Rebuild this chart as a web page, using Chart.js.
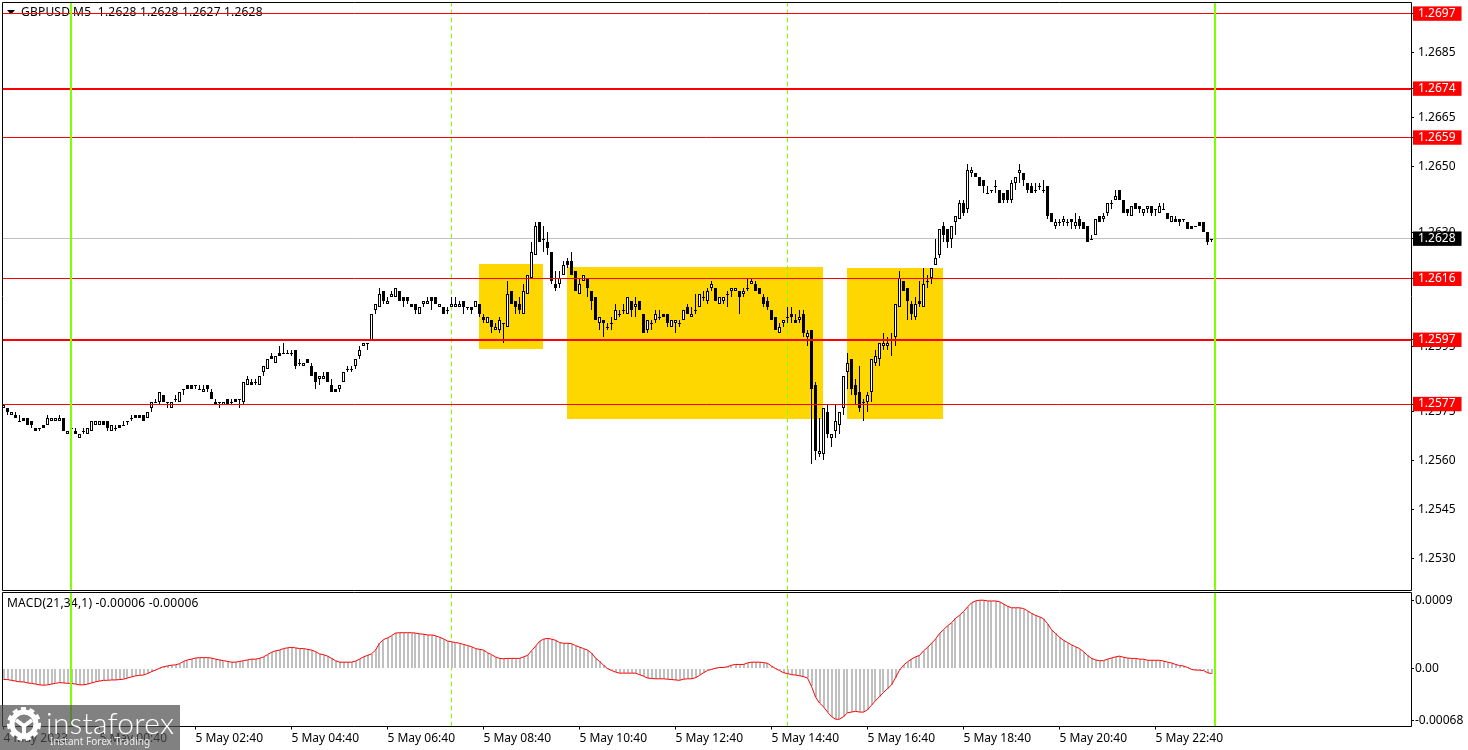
<!DOCTYPE html>
<html>
<head>
<meta charset="utf-8">
<title>GBPUSD M5</title>
<script src="https://cdn.jsdelivr.net/npm/chart.js@4"></script>
<style>
  body { margin: 0; background: #fff; overflow: hidden; }
  canvas { position: absolute; left: 0; }
  #priceChart { top: 0; }
  #macdChart { top: 592px; }
  #logo { position: absolute; left: 0; top: 705px; width: 180px; height: 45px; background: rgba(77, 77, 77, 0.71); color: #fff; overflow: hidden; }
  #logo svg { position: absolute; left: 6px; top: 2px; }
  #logo .name { position: absolute; left: 46px; top: -1px; font: 300 30px Lato, sans-serif; letter-spacing: 0.2px; }
  #logo .sub { position: absolute; left: 50px; top: 29px; font: 10px "Noto Sans", sans-serif; color: rgba(255, 255, 255, 0.85); }
</style>
</head>
<body>
<canvas id="priceChart" width="1468" height="592"></canvas>
<canvas id="macdChart" width="1468" height="158"></canvas>
<div id="logo">
  <svg width="38" height="34" viewBox="0 0 38 34">
    <circle cx="18" cy="17" r="12" fill="none" stroke="#fff" stroke-width="5"/>
    <circle cx="18" cy="17" r="15" fill="none" stroke="#fff" stroke-width="4" stroke-dasharray="5 3.4"/>
    <path d="M10 13 L18 19 L26 13 M18 19 V32" fill="none" stroke="#fff" stroke-width="4"/>
  </svg>
  <span class="name">instaforex</span>
  <span class="sub">Instant Forex Trading</span>
</div>
<script>
// candles, in pips above basePrice (5 minute bars, left to right)
var basePrice = 1.25;
var opens = [76,76,74,74,72,73,73,72,70,70, 71,71,72,72,72,73,68,70,69,67, 69,68,69,71,71,72,72,69,70,71,
  71,72,73,74,74,74,73,76,78,78, 80,78,76,79,78,82,83,83,83,82, 81,83,81,78,78,77,79,78,79,79,
  78,83,84,84,83,87,88,92,90,93, 93,93,93,94,90,89,91,89,87,85, 85,87,83,82,82,84,88,88,89,92,
  95,96,97,106,107,112,108,110,110,112, 110,110,108,108,105,108,108,110,110,107, 107,106,107,107,107,109,107,107,107,108,
  104,102,103,100,100,102,101,112,109,108, 105,111,116,123,133,128,127,124,114,114, 117,121,121,118,111,115,116,112,110,102,
  103,101,102,103,105,106,105,109,107,109, 105,100,102,103,104,105,105,101,102,102, 103,107,104,106,107,110,109,113,113,108,
  109,111,112,112,112,111,113,114,114,113, 110,109,106,104,99,102,104,105,103,103, 105,98,100,83,62,62,75,67,69,71,
  76,87,91,83,81,78,78,81,90,91, 95,95,97,98,107,115,113,108,104,109, 107,115,116,120,123,132,131,128,133,134,
  139,137,148,148,147,146,142,143,144,143, 142,143,140,145,148,148,145,144,143,144, 143,144,136,132,133,133,133,134,132,134,
  133,132,128,129,135,134,136,139,140,143, 140,137,135,139,138,136,137,138,137,136, 137,136,133,134,134,134,133,132,132,133,
  133,130,128];
var highs = [77,76,75,75,74,73,73,72,70,70, 71,74,73,73,74,73,69,70,70,68, 70,70,72,72,72,72,72,71,71,71,
  72,72,74,74,74,74,75,78,79,81, 80,78,78,80,81,82,83,83,83,83, 83,83,82,79,78,78,79,79,79,79,
  84,86,85,85,86,89,91,93,92,95, 96,94,94,94,91,90,91,90,87,86, 87,87,85,82,83,87,89,89,91,95,
  96,96,105,108,113,112,110,112,113,112, 110,110,108,108,107,109,110,110,110,108, 107,107,110,110,109,109,107,107,109,108,
  105,104,103,102,104,102,115,112,109,110, 114,117,127,133,133,132,130,124,118,118, 121,122,124,118,116,117,116,112,110,104,
  103,102,104,108,106,108,110,109,110,109, 105,103,103,106,106,105,105,103,103,103, 106,108,107,111,111,112,113,115,113,110,
  110,112,113,113,112,113,116,116,115,113, 111,110,106,104,102,103,107,107,105,106, 106,100,100,84,73,76,77,68,77,75,
  86,93,91,85,89,79,81,91,94,96, 99,98,99,108,118,115,113,109,110,115, 119,117,119,128,131,133,131,132,135,140,
  140,151,150,148,147,146,144,143,146,143, 142,143,146,147,151,148,145,145,145,145, 146,144,136,134,134,135,134,134,136,135,
  133,132,129,134,135,136,139,140,143,143, 140,137,138,139,138,137,138,138,137,139, 139,136,135,135,134,134,133,132,132,133,
  133,130,128];
var lows = [76,74,74,73,72,72,71,70,69,69, 70,71,72,72,72,69,68,69,68,67, 68,68,69,71,71,71,69,69,69,70,
  71,71,72,73,73,72,73,75,78,77, 78,76,76,78,78,80,82,82,82,82, 81,81,79,77,76,77,77,77,78,76,
  77,83,83,83,83,86,88,91,90,92, 93,93,92,88,89,89,90,86,82,83, 85,84,81,81,81,84,87,87,88,91,
  95,94,97,105,107,108,108,110,110,109, 107,108,107,105,105,107,108,106,108,107, 105,105,107,107,107,105,106,105,107,104,
  102,102,99,100,99,96,101,108,105,105, 105,111,116,123,127,124,123,114,112,113, 117,119,117,112,111,115,110,106,103,100,
  98,100,100,103,104,105,105,104,104,106, 99,99,100,102,103,104,101,101,99,101, 103,105,104,105,107,109,108,112,109,108,
  108,107,110,112,105,110,112,114,112,111, 107,106,103,100,99,101,102,102,102,102, 98,95,59,60,61,60,67,64,67,68,
  74,82,80,77,75,72,75,78,89,89, 94,94,92,95,107,112,103,103,103,107, 107,113,114,120,122,127,125,125,129,134,
  135,136,147,147,144,142,142,142,142,139, 139,139,139,143,145,144,142,142,142,143, 142,134,133,131,132,132,132,131,131,131,
  131,127,128,129,133,133,135,137,140,140, 136,135,135,137,136,135,136,135,135,136, 137,134,133,133,132,133,131,131,132,132,
  130,126,127];
var closes = [77,75,75,73,72,72,71,71,69,70, 70,73,73,73,73,69,69,70,68,68, 69,70,72,72,72,71,70,71,70,70,
  71,72,73,73,73,72,75,78,78,81, 78,78,78,79,81,82,82,82,83,82, 82,82,79,77,78,78,77,78,78,79,
  84,85,83,84,86,89,91,91,92,92, 93,93,93,89,90,90,90,86,84,86, 86,84,81,81,83,87,88,88,91,94,
  96,96,105,108,111,109,109,111,113,109, 109,109,107,106,107,109,109,109,108,108, 105,106,108,108,108,107,107,106,109,105,
  103,104,101,101,103,102,111,108,107,106, 112,117,124,132,127,128,125,115,113,116, 120,120,117,112,114,117,113,109,103,104,
  102,101,102,106,105,106,110,106,108,106, 99,103,102,105,104,104,102,103,103,102, 106,105,105,106,111,110,112,114,109,110,
  110,111,113,113,110,112,113,115,112,111, 108,107,103,100,101,103,104,104,102,104, 99,99,82,63,63,76,68,68,72,75,
  86,90,82,80,76,78,80,91,92,96, 96,96,97,108,116,112,109,105,108,108, 114,115,119,122,131,129,127,132,135,139,
  136,149,149,147,144,144,142,143,144,139, 140,140,145,147,149,146,143,142,143,144, 143,135,133,133,133,134,133,133,133,132,
  131,127,128,134,133,135,139,139,141,140, 136,136,138,137,137,137,138,136,137,138, 137,134,135,133,133,134,131,131,132,132,
  130,127,128];

// MACD(21,34,1), in units of 0.00001. signal period is 1, so signal = macd
var macdValues = [-14,-14,-15,-16,-17,-17,-18.5,-19,-20,-21, -21.5,-21,-20,-19,-18,-18.5,-19,-19,-20,-21, -21,-20,-18.5,-17,-16,-15,-15,-14.5,-14.5,-14,
  -13.5,-12,-10.5,-9,-8.5,-8,-6,-3.5,-1.5,1, 3,4,5,5.5,7,10,12,13,14.5,15, 15,15,14.5,13,12,11,10,9,9,10,
  11,12,13,13,14,16,19,22,24,25, 27,28,28.5,28,27,27,26,25,23,20, 19,17,14,11,9,9,9,9,10.5,13,
  16,18,20,25,34,39,41,44,47.5,48, 48,48,48,47.5,46.5,46,45,45,44,42, 40,37,36,35,34,32.5,31,29.5,27,26,
  25,21.5,19,16,14,13.5,14,14,14,14, 16,18,24,30,36.5,39.5,40.5,39.5,38,35, 34,34,33.5,31,29,27,25,21,14.5,10,
  5,0.5,-2,-4,-5.5,-5.5,-5.5,-5.5,-5.5,-7.5, -9.5,-12,-12.5,-13,-13,-13,-13.5,-14,-14.5,-15, -13.5,-13,-13,-11.5,-8.5,-5,-2,-0.5,1,2,
  2,3,5,6,6,6,8,9,9,9, 8.5,7.5,4,0.5,-2,-5,-6,-7.5,-8,-9, -10,-12,-23,-37,-45,-50,-57,-63,-66.5,-66.5,
  -63,-58,-57,-56,-57,-57,-54,-48,-42,-36.5, -31,-26,-21,-11.5,-1.5,5,9.5,13,16,18, 24,28.5,34,39.5,47,52,57,61,67,71,
  76,82,87.5,90,91,91,90,90,90,89, 86,83,81,81,81,80,77,73.5,71,69, 66.5,60,52,47,42,38,35,32,29.5,27,
  23,18,14,12,11,11,13,14.5,16,17, 15.5,14.5,14,14,13,13,11.5,11.5,11.5,11.5, 10.5,9,8,6,4.5,4,2,-0.5,-1.5,-1.5,
  -2,-5,-6];
var signalValues = macdValues;

// axis labels
var timeLabels = ['4 May 2023', '5 May 00:40', '5 May 02:40', '5 May 04:40', '5 May 06:40', '5 May 08:40', '5 May 10:40',
  '5 May 12:40', '5 May 14:40', '5 May 16:40', '5 May 18:40', '5 May 20:40', '5 May 22:40'];
var barsPerLabel = 24;
var priceTicks = [1.2685, 1.2665, 1.2650, 1.2630, 1.2595, 1.2575, 1.2560, 1.2545, 1.2530];
var macdTicks = [0.0009, 0, -0.00068];
var macdTickLabels = ['0.0009', '0.00', '-0.00068'];

// levels and session marks
var levels = [1.2697, 1.2674, 1.2659, 1.26157, 1.2597, 1.25773];
var levelWidths = [1, 2, 1, 1, 2, 1];
var lastPrice = 1.2628;
var sessionBars = [16.875, 302.875];
var dayBars = [112, 196];
var boxStarts = [118.875, 140.875, 210.875];
var boxEnds = [134.875, 204.875, 234.875];
var boxTops = [1.26202, 1.26193, 1.2619];
var boxBottoms = [1.25942, 1.25727, 1.25727];

var xMin = -0.25, xMax = 351.875;
var priceMin = 1.252014, priceMax = 1.27004;
var macdMin = -0.000761, macdMax = 0.001012;

var fontFamily = '"Noto Sans", sans-serif';
var fontSize = 12;
Chart.defaults.font.family = fontFamily;
Chart.defaults.font.size = fontSize;
Chart.defaults.color = '#000';

function toPrice(p) { return basePrice + p / 10000; }

function lineSet(points, color, width, order, extra) {
  return Object.assign({
    type: 'line', data: points, borderColor: color, borderWidth: width,
    pointRadius: 0, fill: false, order: order
  }, extra || {});
}

// canvas blurs bars on fractional pixels, so snap them after the scales placed them
var snapPlugin = {
  id: 'snap',
  afterDatasetsUpdate: function (chart) {
    chart.data.datasets.forEach(function (ds, i) {
      var meta = chart.getDatasetMeta(i);
      meta.data.forEach(function (el) {
        if (meta.type === 'bar') {
          var top = Math.round(Math.min(el.y, el.base));
          var bottom = Math.round(Math.max(el.y, el.base));
          el.y = top;
          el.base = Math.max(bottom, top + 1);
          if (el.width % 2 === 0) el.x = Math.round(el.x);
        } else if (ds.snapY) {
          el.y = ds.borderWidth % 2 ? Math.floor(el.y) + 0.5 : Math.round(el.y);
        }
      });
    });
  }
};

// frame round the plot plus the text line at its top left
function framePlugin(drawText) {
  return {
    id: 'frame',
    beforeDatasetsDraw: function (chart) { drawText(chart.ctx); },
    afterDatasetsDraw: function (chart) {
      var a = chart.chartArea, ctx = chart.ctx;
      ctx.save();
      ctx.strokeStyle = '#000';
      ctx.lineWidth = 1;
      ctx.beginPath();
      ctx.moveTo(a.left, a.top);
      ctx.lineTo(Math.floor(a.right) + 0.5, a.top);
      ctx.lineTo(Math.floor(a.right) + 0.5, a.bottom);
      ctx.lineTo(a.left, a.bottom);
      ctx.closePath();
      ctx.stroke();
      ctx.restore();
    }
  };
}

function caption(ctx, text, x, y) {
  ctx.save();
  ctx.fillStyle = '#000';
  ctx.font = fontSize + 'px ' + fontFamily;
  ctx.letterSpacing = '0.2px';
  ctx.textBaseline = 'middle';
  ctx.fillText(text, x, y);
  ctx.restore();
}

function markerSets(yMin, yMax) {
  var sets = [];
  sessionBars.forEach(function (x) {
    sets.push(lineSet([{ x: x, y: yMin }, { x: x, y: yMax }], '#7fff00', 2, 0));
  });
  dayBars.forEach(function (x) {
    sets.push(lineSet([{ x: x, y: yMin }, { x: x, y: yMax }], '#7fff00', 1, 5, { borderDash: [5, 3] }));
  });
  return sets;
}

// tick labels must not push the plot edges in
function fitY(scale) { scale.width = 57; scale.paddingTop = 0; scale.paddingBottom = 0; }

var wickData = [], bodyData = [], macdBarData = [], signalData = [];
for (var i = 0; i < opens.length; i++) {
  wickData.push({ x: i, y: [toPrice(lows[i]), toPrice(highs[i])] });
  bodyData.push({ x: i, y: [toPrice(Math.min(opens[i], closes[i])), toPrice(Math.max(opens[i], closes[i]))] });
}
for (var j = 0; j < macdValues.length; j++) {
  macdBarData.push({ x: j, y: macdValues[j] / 100000 });
  signalData.push({ x: j, y: signalValues[j] / 100000 });
}

var priceSets = [
  { type: 'bar', data: wickData, barThickness: 1, grouped: false, backgroundColor: '#000', borderWidth: 0, inflateAmount: 0, order: 3 },
  {
    type: 'bar', data: bodyData, barThickness: 3, grouped: false, borderColor: '#000', borderWidth: 1,
    borderSkipped: false, inflateAmount: 0, order: 2,
    backgroundColor: function (ctx) { return closes[ctx.dataIndex] >= opens[ctx.dataIndex] ? '#fff' : '#000'; }
  },
  lineSet([{ x: xMin, y: lastPrice }, { x: xMax, y: lastPrice }], '#c0c0c0', 1, 4, { snapY: true })
].concat(markerSets(priceMin, priceMax));
levels.forEach(function (level, k) {
  priceSets.push(lineSet([{ x: xMin, y: level }, { x: xMax, y: level }], '#ff0000', levelWidths[k], 1, { snapY: true }));
});
boxStarts.forEach(function (start, k) {
  priceSets.push(lineSet([{ x: start, y: boxTops[k] }, { x: boxEnds[k], y: boxTops[k] }], '#ffd700', 0, 6,
    { fill: { value: boxBottoms[k] }, backgroundColor: '#ffd700' }));
});

function tagColor(value) {
  if (value === lastPrice) return '#000';
  return levels.indexOf(value) >= 0 ? '#ff0000' : 'rgba(0,0,0,0)';
}

new Chart(document.getElementById('priceChart'), {
  type: 'bar',
  data: { datasets: priceSets },
  plugins: [snapPlugin, framePlugin(function (ctx) {
    ctx.save();
    ctx.fillStyle = '#000';
    ctx.beginPath();
    ctx.moveTo(7, 10); ctx.lineTo(15, 10); ctx.lineTo(11, 14.5);
    ctx.fill();
    ctx.restore();
    caption(ctx, 'GBPUSD,M5  1.2628 1.2628 1.2627 1.2628', 21, 13);
  })],
  options: {
    responsive: false, animation: false, devicePixelRatio: 1,
    layout: { padding: { left: 2.5, top: 2.5, bottom: 1.5, right: 0 } },
    plugins: { legend: { display: false }, tooltip: { enabled: false } },
    scales: {
      x: { type: 'linear', display: false, offset: false, min: xMin, max: xMax },
      y: {
        position: 'right', min: priceMin, max: priceMax,
        afterFit: fitY,
        afterBuildTicks: function (scale) {
          scale.ticks = priceTicks.concat([lastPrice], levels).map(function (v) { return { value: v }; });
        },
        grid: { drawOnChartArea: false, tickLength: 3, tickColor: '#000' },
        border: { display: false },
        ticks: {
          autoSkip: false, padding: 4, showLabelBackdrop: true,
          backdropPadding: { left: 5, right: 6, top: 0, bottom: 0 },
          backdropColor: function (ctx) { return tagColor(ctx.tick.value); },
          color: function (ctx) { return tagColor(ctx.tick.value) === 'rgba(0,0,0,0)' ? '#000' : '#fff'; },
          callback: function (v) { return v.toFixed(4); }
        }
      }
    }
  }
});

new Chart(document.getElementById('macdChart'), {
  type: 'bar',
  data: {
    datasets: [
      { type: 'bar', data: macdBarData, barThickness: 2, grouped: false, backgroundColor: '#c0c0c0', borderWidth: 0, inflateAmount: 0, order: 3 },
      lineSet(signalData, '#ff0000', 1, 2)
    ].concat(markerSets(macdMin, macdMax))
  },
  plugins: [snapPlugin, framePlugin(function (ctx) {
    caption(ctx, 'MACD(21,34,1) -0.00006 -0.00006', 7, 12);
  })],
  options: {
    responsive: false, animation: false, devicePixelRatio: 1,
    layout: { padding: { left: 2.5, top: 0.5, bottom: 0, right: 0 } },
    plugins: { legend: { display: false }, tooltip: { enabled: false } },
    scales: {
      x: {
        type: 'linear', offset: false, min: xMin, max: xMax,
        afterFit: function (scale) { scale.height = 23.5; scale.paddingLeft = 0; scale.paddingRight = 0; },
        afterBuildTicks: function (scale) {
          scale.ticks = timeLabels.map(function (t, k) { return { value: k * barsPerLabel }; });
        },
        grid: { drawOnChartArea: false, tickLength: 3, tickColor: '#000', offset: false },
        border: { display: false },
        ticks: {
          autoSkip: false, maxRotation: 0, align: 'start', padding: 2,
          callback: function (v) { return timeLabels[v / barsPerLabel]; }
        }
      },
      y: {
        position: 'right', min: macdMin, max: macdMax,
        afterFit: fitY,
        afterBuildTicks: function (scale) {
          scale.ticks = macdTicks.map(function (v) { return { value: v }; });
        },
        grid: { drawOnChartArea: false, tickLength: 3, tickColor: '#000' },
        border: { display: false },
        ticks: {
          autoSkip: false, padding: 1,
          callback: function (v, k) { return macdTickLabels[k]; }
        }
      }
    }
  }
});
</script>
</body>
</html>
